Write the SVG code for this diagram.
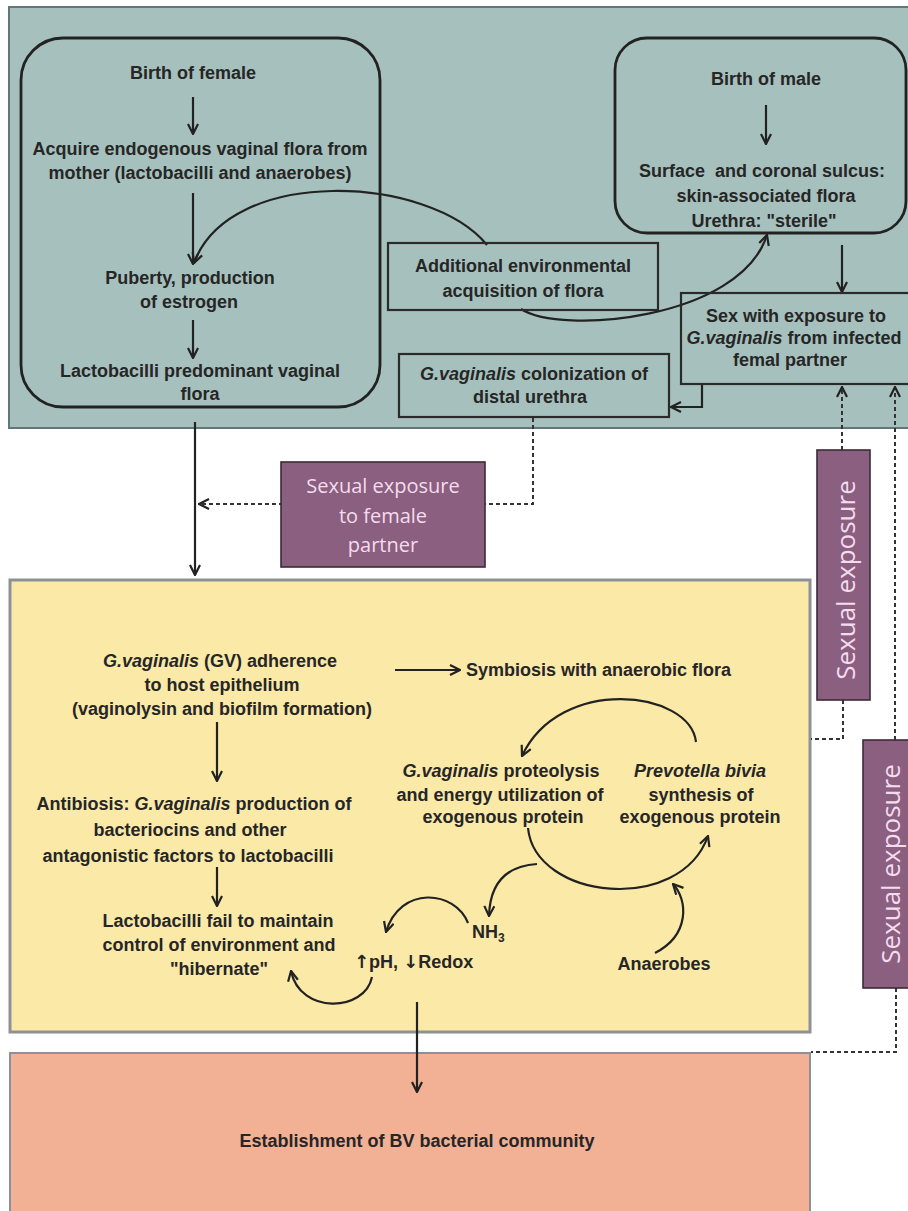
<svg xmlns="http://www.w3.org/2000/svg" width="908" height="1211" viewBox="0 0 908 1211">
<defs>
<style>
.t{font-family:"Liberation Sans",Arial,sans-serif;font-weight:bold;font-size:18px;fill:#262626;text-anchor:middle}
.it{font-style:italic}
.ar{font-family:"DejaVu Sans",sans-serif;font-size:18px}
.p{font-family:"Open Sans","Noto Sans",sans-serif;fill:#f4dcee;text-anchor:middle}
.box{fill:none;stroke:#2a2a2a;stroke-width:2.2}
.rbox{fill:none;stroke:#222;stroke-width:2.8}
.c{fill:none;stroke:#222;stroke-width:2.2}
.d{fill:none;stroke:#333;stroke-width:2;stroke-dasharray:4 3}
.pur{fill:#8b5f7f;stroke:#3b2b36;stroke-width:1.6}
</style>
<marker id="ah" viewBox="0 0 12 12" refX="11" refY="6" markerWidth="12" markerHeight="12" markerUnits="userSpaceOnUse" orient="auto">
<path d="M1,1 L11,6 L1,11" fill="none" stroke="#222" stroke-width="2.2"/>
</marker>
</defs>
<rect x="0" y="0" width="908" height="1211" fill="#ffffff"/>

<g id="panel-top"><rect x="9" y="7" width="905" height="421" fill="#a6c1bd" stroke="#62777a" stroke-width="2"/></g>
<g id="panel-yellow"><rect x="10" y="580" width="800" height="452" fill="#fbe9a8" stroke="#8d9197" stroke-width="3"/></g>
<g id="panel-orange"><rect x="10" y="1053" width="800" height="162" fill="#f2b095" stroke="#8d9197" stroke-width="2"/></g>

<g id="connectors">
<path class="c" d="M193,97 V134" marker-end="url(#ah)"/>
<path class="c" d="M193,193 V264" marker-end="url(#ah)"/>
<path class="c" d="M193,320 V358" marker-end="url(#ah)"/>
<path class="c" d="M487,245 C430,175 230,165 194,263" marker-end="url(#ah)"/>
<path class="c" d="M521,309 C560,335 740,320 767,235" marker-end="url(#ah)"/>
<path class="c" d="M766,105 V144" marker-end="url(#ah)"/>
<path class="c" d="M842,245 V292" marker-end="url(#ah)"/>
<path class="c" d="M702,384 V407 H671" marker-end="url(#ah)"/>
<path class="c" d="M195,422 V575" marker-end="url(#ah)"/>
<path class="d" d="M533,418 V504 H199" marker-end="url(#ah)"/>
<path class="d" d="M842,450 V387" marker-end="url(#ah)"/>
<path class="d" d="M895,740 V387" marker-end="url(#ah)"/>
<path class="d" d="M843,700 V739 H811"/>
<path class="d" d="M896,988 V1052 H811"/>
<path class="c" d="M395,670 H460" marker-end="url(#ah)"/>
<path class="c" d="M217,722 V781" marker-end="url(#ah)"/>
<path class="c" d="M217,867 V906" marker-end="url(#ah)"/>
<path class="c" d="M696,742 C690,690 560,675 522,756" marker-end="url(#ah)"/>
<path class="c" d="M528,828 C535,900 680,915 708,836" marker-end="url(#ah)"/>
<path class="c" d="M537,864 C505,866 490,885 489,916" marker-end="url(#ah)"/>
<path class="c" d="M468,923 C455,890 400,885 386,932" marker-end="url(#ah)"/>
<path class="c" d="M655,953 C690,935 688,900 673,884" marker-end="url(#ah)"/>
<path class="c" d="M372,977 C365,1012 300,1015 291,971" marker-end="url(#ah)"/>
<path class="c" d="M417,1002 V1092" marker-end="url(#ah)"/>
</g>

<g id="female">
<rect class="rbox" x="21" y="38" width="359" height="369" rx="42"/>
<text class="t" x="193" y="79">Birth of female</text>
<text class="t" x="200" y="155">Acquire endogenous vaginal flora from</text>
<text class="t" x="200" y="179">mother (lactobacilli and anaerobes)</text>
<text class="t" x="190" y="284">Puberty, production</text>
<text class="t" x="189" y="308">of estrogen</text>
<text class="t" x="200" y="377">Lactobacilli predominant vaginal</text>
<text class="t" x="200" y="400">flora</text>
</g>

<g id="male">
<rect class="rbox" x="615" y="38" width="291" height="195" rx="32"/>
<text class="t" x="766" y="85">Birth of male</text>
<text class="t" x="762" y="177" style="white-space:pre">Surface  and coronal sulcus:</text>
<text class="t" x="766" y="202">skin-associated flora</text>
<text class="t" x="764" y="227">Urethra: "sterile"</text>
</g>

<g id="additional">
<rect class="box" x="388" y="243" width="270" height="67"/>
<text class="t" x="523" y="272">Additional environmental</text>
<text class="t" x="523" y="297">acquisition of flora</text>
</g>

<g id="sex">
<rect class="box" x="681" y="293" width="235" height="91"/>
<text class="t" x="796" y="322">Sex with exposure to</text>
<text class="t" x="794" y="344"><tspan class="it">G.vaginalis</tspan> from infected</text>
<text class="t" x="790" y="366">femal partner</text>
</g>

<g id="colonization">
<rect class="box" x="399" y="354" width="270" height="63"/>
<text class="t" x="534" y="380"><tspan class="it">G.vaginalis</tspan> colonization of</text>
<text class="t" x="530" y="403">distal urethra</text>
</g>

<g id="sexual-female">
<rect class="pur" x="281" y="462" width="204" height="105"/>
<text class="p" x="383" y="493" font-size="20">Sexual exposure</text>
<text class="p" x="383" y="523" font-size="20">to female</text>
<text class="p" x="383" y="552" font-size="20">partner</text>
</g>

<g id="sexual-1">
<rect class="pur" x="817" y="450" width="53" height="250"/>
<text class="p" font-size="26" transform="translate(855,580) rotate(-90)">Sexual exposure</text>
</g>

<g id="sexual-2">
<rect class="pur" x="863" y="740" width="52" height="248"/>
<text class="p" font-size="26" transform="translate(900,864) rotate(-90)">Sexual exposure</text>
</g>

<g id="adherence">
<text class="t" x="220" y="667"><tspan class="it">G.vaginalis</tspan> (GV) adherence</text>
<text class="t" x="222" y="691">to host epithelium</text>
<text class="t" x="222" y="715">(vaginolysin and biofilm formation)</text>
</g>
<g id="symbiosis">
<text class="t" x="466" y="676" style="text-anchor:start">Symbiosis with anaerobic flora</text>
</g>
<g id="antibiosis">
<text class="t" x="194" y="810">Antibiosis: <tspan class="it">G.vaginalis</tspan> production of</text>
<text class="t" x="190" y="836">bacteriocins and other</text>
<text class="t" x="188" y="862">antagonistic factors to lactobacilli</text>
</g>
<g id="proteolysis">
<text class="t" x="501" y="777"><tspan class="it">G.vaginalis</tspan> proteolysis</text>
<text class="t" x="500" y="801">and energy utilization of</text>
<text class="t" x="503" y="823">exogenous protein</text>
</g>
<g id="prevotella">
<text class="t it" x="700" y="777">Prevotella bivia</text>
<text class="t" x="701" y="801">synthesis of</text>
<text class="t" x="700" y="823">exogenous protein</text>
</g>
<g id="lactofail">
<text class="t" x="218" y="927">Lactobacilli fail to maintain</text>
<text class="t" x="219" y="951">control of environment and</text>
<text class="t" x="219" y="975">"hibernate"</text>
</g>
<g id="nh3"><text class="t" x="472" y="938" style="text-anchor:start">NH<tspan font-size="12" dy="4">3</tspan></text></g>
<g id="ph"><text class="t" x="354" y="968" style="text-anchor:start"><tspan class="ar">↑</tspan>pH, <tspan class="ar">↓</tspan>Redox</text></g>
<g id="anaerobes"><text class="t" x="664" y="970">Anaerobes</text></g>
<g id="bv"><text class="t" x="417" y="1147">Establishment of BV bacterial community</text></g>
</svg>
